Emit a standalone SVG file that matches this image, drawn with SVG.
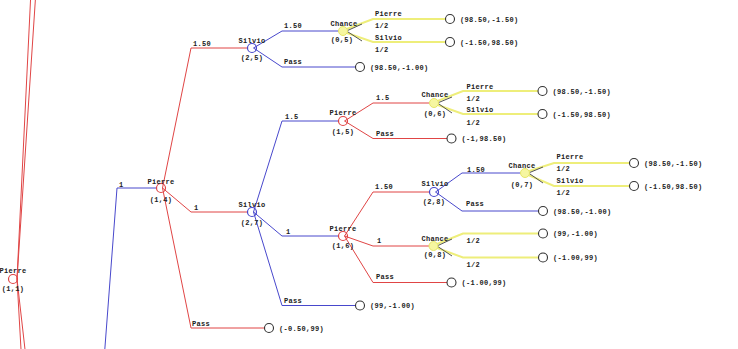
<svg xmlns="http://www.w3.org/2000/svg" width="738" height="349" viewBox="0 0 738 349">
<style>
text{font-family:"Liberation Mono","DejaVu Sans Mono",monospace;font-size:7px;font-weight:bold;fill:#222;letter-spacing:0.3px}
.m{text-anchor:middle}
.r{stroke:#e04545;stroke-width:1;fill:none}
.b{stroke:#4848cc;stroke-width:1;fill:none}
.y{stroke:#eeee7a;stroke-width:2;fill:none}
.k{stroke:#555;stroke-width:1;fill:none}
.pc{stroke:#e04545;stroke-width:1.2;fill:none}
.sc{stroke:#4848cc;stroke-width:1.2;fill:none}
.cc{stroke:#e6e66a;stroke-width:1;fill:#f6f6a0}
.tc{stroke:#333;stroke-width:1.1;fill:#fff}
</style>
<rect width="738" height="349" fill="#fff"/>
<g id="connectors">
<!-- root edges -->
<path class="r" d="M17,279 L31,-10"/>
<path class="r" d="M17,279 L36,-10"/>
<path class="r" d="M17,279 L21.6,360"/>
<path class="r" d="M17,279 L26.2,360"/>
<!-- into Pierre 1,4 -->
<path class="b" d="M104,360 L117,188 L156.5,188"/>
<text x="119" y="186.5">1</text>
<!-- Pierre 1,4 -->
<path class="r" d="M162.5,188 L191,48 L247.5,48"/>
<text x="193" y="45.5">1.50</text>
<path class="r" d="M162.5,188 L191,212 L247.5,212"/>
<text x="194" y="210">1</text>
<path class="r" d="M162.5,188 L191,328 L264.5,328"/>
<text x="192" y="326">Pass</text>
<!-- Silvio 2,5 -->
<path class="b" d="M253.5,48 L282,31 L339,31"/>
<text x="284" y="27.5">1.50</text>
<path class="b" d="M253.5,48 L282,67 L355.5,67"/>
<text x="284" y="64">Pass</text>
<!-- Chance 0,5 -->
<path class="y" d="M344,30 L373,19 L445.5,19"/>
<path class="y" d="M344,32 L373,42 L445.5,42"/>
<path class="k" d="M346.5,31 L362,24 M346.5,31 L362,41"/>
<text x="375" y="16">Pierre</text>
<text x="375" y="27.5">1/2</text>
<text x="375" y="40">Silvio</text>
<text x="375" y="52">1/2</text>
<!-- Silvio 2,7 -->
<path class="b" d="M253.5,212 L282,121 L338.5,121"/>
<text x="285" y="118.5">1.5</text>
<path class="b" d="M253.5,212 L282,236 L338.5,236"/>
<text x="286" y="233.5">1</text>
<path class="b" d="M253.5,212 L282,305.5 L355.5,305.5"/>
<text x="284" y="302.5">Pass</text>
<!-- Pierre 1,5 -->
<path class="r" d="M344.5,121 L373,103 L429.5,103"/>
<text x="376" y="99.5">1.5</text>
<path class="r" d="M344.5,121 L373,138.5 L447,138.5"/>
<text x="376" y="135.5">Pass</text>
<!-- Chance 0,6 -->
<path class="y" d="M435,102 L463,91 L538,91"/>
<path class="y" d="M435,104 L463,114 L538,114"/>
<path class="k" d="M437.5,103 L452,97 M437.5,103 L452,113"/>
<text x="466.5" y="88.5">Pierre</text>
<text x="466.5" y="100.5">1/2</text>
<text x="466.5" y="112">Silvio</text>
<text x="466.5" y="125">1/2</text>
<!-- Pierre 1,6 -->
<path class="r" d="M344.5,236 L373,192 L429.5,192"/>
<text x="375" y="189">1.50</text>
<path class="r" d="M344.5,236 L373,246 L429,246"/>
<text x="377" y="242.5">1</text>
<path class="r" d="M344.5,236 L373,282.5 L447,282.5"/>
<text x="376" y="279">Pass</text>
<!-- Silvio 2,8 -->
<path class="b" d="M435.5,192 L462,173 L520.5,173"/>
<text x="467" y="171.5">1.50</text>
<path class="b" d="M435.5,192 L462,211 L538.5,211"/>
<text x="466" y="206">Pass</text>
<!-- Chance 0,7 -->
<path class="y" d="M526,172 L554,163 L629.5,163"/>
<path class="y" d="M526,174 L554,186 L629.5,186"/>
<path class="k" d="M528.5,173 L543,167 M528.5,173 L543,183"/>
<text x="556.5" y="159">Pierre</text>
<text x="556.5" y="171">1/2</text>
<text x="556.5" y="183">Silvio</text>
<text x="556.5" y="195">1/2</text>
<!-- Chance 0,8 -->
<path class="y" d="M434.5,245 L463,233.5 L538.5,233.5"/>
<path class="y" d="M434.5,247 L463,257.5 L538.5,257.5"/>
<path class="k" d="M437,246 L452,239 M437,246 L452,256"/>
<text x="466.5" y="243">1/2</text>
<text x="466.5" y="267">1/2</text>
</g>
<g id="node-pierre-1-1"><circle class="pc" cx="13" cy="279" r="4.5"/><text class="m" x="13" y="272.5">Pierre</text><text class="m" x="13" y="290.5">(1,1)</text></g>
<g id="node-pierre-1-4"><circle class="pc" cx="161" cy="188" r="4.5"/><text class="m" x="161" y="183.5">Pierre</text><text class="m" x="161" y="201.5">(1,4)</text></g>
<g id="node-silvio-2-5"><circle class="sc" cx="252" cy="48" r="4.5"/><text class="m" x="252" y="43.2">Silvio</text><text class="m" x="252" y="59.5">(2,5)</text></g>
<g id="node-silvio-2-7"><circle class="sc" cx="252" cy="212" r="4.5"/><text class="m" x="252" y="207">Silvio</text><text class="m" x="252" y="224.5">(2,7)</text></g>
<g id="node-chance-0-5"><circle class="cc" cx="343" cy="31" r="4.5"/><text class="m" x="344" y="25.5">Chance</text><text class="m" x="342" y="42">(0,5)</text></g>
<g id="node-pierre-1-5"><circle class="pc" cx="343" cy="121" r="4.5"/><text class="m" x="343" y="115">Pierre</text><text class="m" x="343" y="133.5">(1,5)</text></g>
<g id="node-pierre-1-6"><circle class="pc" cx="343" cy="236" r="4.5"/><text class="m" x="343" y="231">Pierre</text><text class="m" x="343" y="247.5">(1,6)</text></g>
<g id="node-chance-0-6"><circle class="cc" cx="434" cy="103" r="4.5"/><text class="m" x="435" y="96.5">Chance</text><text class="m" x="435" y="116">(0,6)</text></g>
<g id="node-silvio-2-8"><circle class="sc" cx="434" cy="192" r="4.5"/><text class="m" x="435" y="186">Silvio</text><text class="m" x="434" y="204">(2,8)</text></g>
<g id="node-chance-0-7"><circle class="cc" cx="525" cy="173" r="4.5"/><text class="m" x="522" y="168">Chance</text><text class="m" x="522" y="187">(0,7)</text></g>
<g id="node-chance-0-8"><circle class="cc" cx="433.5" cy="246" r="4.5"/><text class="m" x="435" y="241">Chance</text><text class="m" x="435" y="257">(0,8)</text></g>
<g id="t1"><circle class="tc" cx="450" cy="19" r="4.5"/><text x="460" y="21.5">(98.50,-1.50)</text></g>
<g id="t2"><circle class="tc" cx="450" cy="42" r="4.5"/><text x="460" y="44.5">(-1.50,98.50)</text></g>
<g id="t3"><circle class="tc" cx="360" cy="67" r="4.5"/><text x="370" y="69.5">(98.50,-1.00)</text></g>
<g id="t4"><circle class="tc" cx="542.5" cy="91" r="4.5"/><text x="552.5" y="93.5">(98.50,-1.50)</text></g>
<g id="t5"><circle class="tc" cx="542.5" cy="114" r="4.5"/><text x="552.5" y="116.5">(-1.50,98.50)</text></g>
<g id="t6"><circle class="tc" cx="451.5" cy="138.5" r="4.5"/><text x="461.5" y="141">(-1,98.50)</text></g>
<g id="t7"><circle class="tc" cx="634" cy="163" r="4.5"/><text x="644" y="165.5">(98.50,-1.50)</text></g>
<g id="t8"><circle class="tc" cx="634" cy="186" r="4.5"/><text x="644" y="188.5">(-1.50,98.50)</text></g>
<g id="t9"><circle class="tc" cx="543" cy="211" r="4.5"/><text x="553" y="213.5">(98.50,-1.00)</text></g>
<g id="t10"><circle class="tc" cx="543" cy="233.5" r="4.5"/><text x="553" y="236">(99,-1.00)</text></g>
<g id="t11"><circle class="tc" cx="543" cy="257.5" r="4.5"/><text x="553" y="260">(-1.00,99)</text></g>
<g id="t12"><circle class="tc" cx="451.5" cy="282.5" r="4.5"/><text x="461.5" y="285">(-1.00,99)</text></g>
<g id="t13"><circle class="tc" cx="360" cy="305.5" r="4.5"/><text x="370" y="308">(99,-1.00)</text></g>
<g id="t14"><circle class="tc" cx="269" cy="328" r="4.5"/><text x="279" y="330.5">(-0.50,99)</text></g>
</svg>
